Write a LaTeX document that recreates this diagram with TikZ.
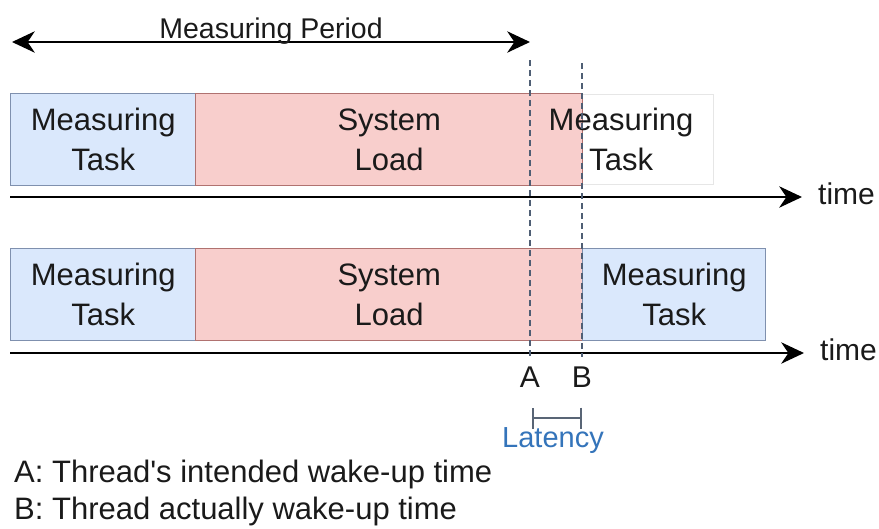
\documentclass[tikz,border=0pt]{standalone}
\usepackage{fontspec}
\setmainfont{Liberation Sans}
\usetikzlibrary{arrows.meta}
\definecolor{bluefill}{HTML}{DAE8FC}
\definecolor{blueline}{HTML}{7F90AE}
\definecolor{redfill}{HTML}{F8CECC}
\definecolor{redline}{HTML}{B07270}
\definecolor{ghostline}{HTML}{E6E6E6}
\definecolor{dashcol}{HTML}{4F5E74}
\definecolor{latblue}{HTML}{3474BA}
\definecolor{txt}{HTML}{1A1A1A}
\tikzset{
  boxtxt/.style={font=\fontsize{31}{40}\selectfont, text=txt, align=center},
  taskbox/.style={boxtxt, draw=blueline, fill=bluefill, line width=1.4pt, anchor=north west, minimum height=92pt, inner sep=0pt},
  loadbox/.style={boxtxt, draw=redline, fill=redfill, line width=1.4pt, anchor=north west, minimum height=92pt, inner sep=0pt},
  ghostbox/.style={draw=ghostline, line width=1.2pt, anchor=north west, minimum height=90pt, inner sep=0pt},
  timeaxis/.style={draw=black, line width=1.8pt, arrows={-Stealth[length=0.8cm,width=0.75cm,inset=0.25cm]}},
  periodline/.style={draw=black, line width=1.8pt, arrows={Stealth[length=0.8cm,width=0.75cm,inset=0.25cm]-Stealth[length=0.8cm,width=0.75cm,inset=0.25cm]}},
  marker/.style={draw=dashcol, line width=1.1pt, dash pattern=on 6pt off 4pt},
  lbl/.style={font=\fontsize{30}{36}\selectfont, text=txt, inner sep=0pt},
  bracket/.style={draw=dashcol!80!gray, line width=1.6pt, {Bar[width=21pt]}-{Bar[width=21pt]}}
}
\begin{document}
\begin{tikzpicture}[x=1pt,y=-1pt]
\useasboundingbox (0,0) rectangle (879,528);
% measuring period
\coordinate (mps) at (12,42);
\coordinate (mpe) at (530,42);
\draw[periodline] (mps) -- (mpe);
\node[font=\fontsize{28.5}{34}\selectfont, text=txt, anchor=base, inner sep=0pt] (mp) at (271,38) {Measuring Period};
% top row
\node[ghostbox, minimum width=185pt] (g1) at (528,94) {};
\node[taskbox, minimum width=185pt] (t1) at (10,93) {Measuring\\Task};
\node[loadbox, minimum width=387pt] (l1) at (195,93) {System\\Load};
\node[boxtxt] (g1t) at (g1.center) {Measuring\\Task};
% bottom row
\node[taskbox, minimum width=185pt] (t2) at (10,248) {Measuring\\Task};
\node[loadbox, minimum width=387pt] (l2) at (195,248) {System\\Load};
\node[taskbox, minimum width=183pt] (t3) at (582,248) {Measuring\\Task};
% axes
\coordinate (a1s) at (10,197);
\coordinate (a1e) at (802,197);
\draw[timeaxis] (a1s) -- (a1e);
\node[lbl, anchor=west] (time1) at (818,194) {time};
\coordinate (a2s) at (10,353);
\coordinate (a2e) at (804,353);
\draw[timeaxis] (a2s) -- (a2e);
\node[lbl, anchor=west] (time2) at (820,350) {time};
% markers
\coordinate (mAt) at (530,60);
\coordinate (mAb) at (530,357);
\coordinate (mBt) at (582,63);
\coordinate (mBb) at (582,357);
\draw[marker] (mAt) -- (mAb);
\draw[marker] (mBt) -- (mBb);
\node[lbl] (A) at (530,377) {A};
\node[lbl] (B) at (582,377) {B};
% latency
\coordinate (la) at (532,418);
\coordinate (lb) at (582,418);
\draw[bracket] (la) -- (lb);
\node[font=\fontsize{29}{34}\selectfont, text=latblue, inner sep=0pt] (lat) at (553,441) {Latency};
% legend
\node[lbl, font=\fontsize{31}{36}\selectfont, anchor=west] (legA) at (14,474) {A: Thread\textquotesingle s intended wake-up time};
\node[lbl, font=\fontsize{31}{36}\selectfont, anchor=west] (legB) at (14,511) {B: Thread actually wake-up time};
\end{tikzpicture}
\end{document}
